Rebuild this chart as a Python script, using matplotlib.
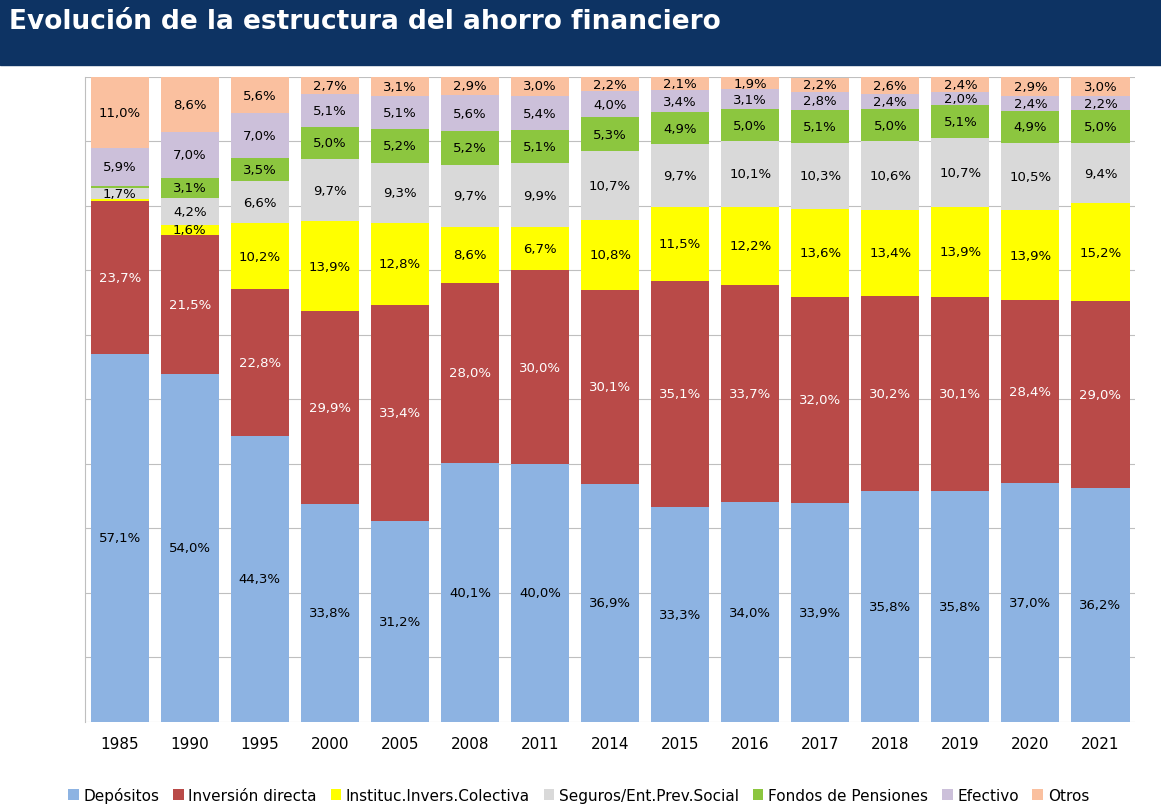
import numpy as np
import matplotlib.pyplot as plt
from matplotlib.patches import Rectangle

years = ['1985', '1990', '1995', '2000', '2005', '2008', '2011', '2014',
         '2015', '2016', '2017', '2018', '2019', '2020', '2021']
depositos = [57.1, 54.0, 44.3, 33.8, 31.2, 40.1, 40.0, 36.9, 33.3, 34.0, 33.9, 35.8, 35.8, 37.0, 36.2]
inversion = [23.7, 21.5, 22.8, 29.9, 33.4, 28.0, 30.0, 30.1, 35.1, 33.7, 32.0, 30.2, 30.1, 28.4, 29.0]
instituc = [0.3, 1.6, 10.2, 13.9, 12.8, 8.6, 6.7, 10.8, 11.5, 12.2, 13.6, 13.4, 13.9, 13.9, 15.2]
seguros = [1.7, 4.2, 6.6, 9.7, 9.3, 9.7, 9.9, 10.7, 9.7, 10.1, 10.3, 10.6, 10.7, 10.5, 9.4]
fondos = [0.3, 3.1, 3.5, 5.0, 5.2, 5.2, 5.1, 5.3, 4.9, 5.0, 5.1, 5.0, 5.1, 4.9, 5.0]
efectivo = [5.9, 7.0, 7.0, 5.1, 5.1, 5.6, 5.4, 4.0, 3.4, 3.1, 2.8, 2.4, 2.0, 2.4, 2.2]
otros = [11.0, 8.6, 5.6, 2.7, 3.1, 2.9, 3.0, 2.2, 2.1, 1.9, 2.2, 2.6, 2.4, 2.9, 3.0]

series = [
    ('Depósitos', depositos, '#8db3e2', 'black'),
    ('Inversión directa', inversion, '#b94a48', 'white'),
    ('Instituc.Invers.Colectiva', instituc, '#ffff00', 'black'),
    ('Seguros/Ent.Prev.Social', seguros, '#d9d9d9', 'black'),
    ('Fondos de Pensiones', fondos, '#8cc63f', 'black'),
    ('Efectivo', efectivo, '#ccc0da', 'black'),
    ('Otros', otros, '#fac09f', 'black'),
]

fig = plt.figure(figsize=(11.61, 8.12), dpi=100)
fig.patches.append(Rectangle((0, 1 - 66 / 812), 1, 66 / 812, transform=fig.transFigure,
                             color='#0d3363', zorder=0))
fig.text(0.008, 1 - 22 / 812, 'Evolución de la estructura del ahorro financiero',
         color='white', fontsize=19, fontweight='bold', va='center')

ax = fig.add_axes([0.073, 0.110, 0.905, 0.794])
x = np.arange(len(years))
bottom = np.zeros(len(years))
for name, vals, col, tcol in series:
    vals = np.array(vals)
    ax.bar(x, vals, 0.83, bottom=bottom, color=col, label=name, zorder=3)
    for xi, b, v in zip(x, bottom, vals):
        if v >= 1:
            ax.text(xi, b + v / 2, f'{v:.1f}%'.replace('.', ','), ha='center', va='center',
                    fontsize=9.5, color=tcol, zorder=4)
    bottom += vals

ax.set_ylim(0, 100)
ax.set_xlim(-0.5, len(years) - 0.5)
ax.set_yticks(np.arange(0, 101, 10))
ax.set_yticklabels([])
ax.tick_params(axis='y', length=0)
ax.tick_params(axis='x', length=0, labelsize=11, pad=10)
ax.set_xticks(x)
ax.set_xticklabels(years)
ax.grid(axis='y', color='#bfbfbf', linewidth=0.8, zorder=0)
for s in ['top', 'right', 'bottom']:
    ax.spines[s].set_visible(False)
ax.spines['left'].set_color('#bfbfbf')

ax.legend(loc='upper center', bbox_to_anchor=(0.47, -0.08), ncol=7, frameon=False,
          fontsize=11, handlelength=0.7, handleheight=0.7, handletextpad=0.3, columnspacing=0.9)

fig.savefig('out.png', dpi=100)
